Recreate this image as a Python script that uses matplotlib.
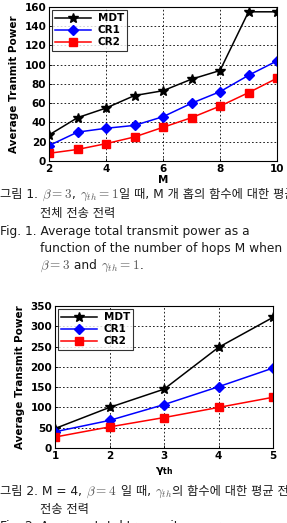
import matplotlib
matplotlib.use('Agg')
import matplotlib.pyplot as plt

plt.rcParams['mathtext.fontset'] = 'cm'

# figure 1 data: power vs number of hops M
hops = [2, 3, 4, 5, 6, 7, 8, 9, 10]
mdt_m = [27, 45, 55, 68, 73, 85, 94, 155, 155]
cr1_m = [16, 30, 34, 37, 46, 60, 72, 89, 104]
cr2_m = [8, 12, 18, 25, 35, 45, 57, 71, 86]

# figure 2 data: power vs gamma_th
gammas = [1, 2, 3, 4, 5]
mdt_g = [48, 100, 145, 248, 322]
cr1_g = [40, 68, 107, 151, 197]
cr2_g = [27, 52, 75, 100, 125]

W, H = 287, 523
fig = plt.figure(figsize=(W / 100, H / 100), dpi=100)
fig.patch.set_facecolor('white')
renderer = fig.canvas.get_renderer()

cap_fam = ['DejaVu Sans', 'Noto Sans CJK KR']


def px_axes(left, top, right, bottom):
    return fig.add_axes([left / W, 1 - bottom / H, (right - left) / W, (bottom - top) / H])


def draw(ax, x, mdt, cr1, cr2):
    ax.plot(x, mdt, '-*', color='black', lw=1.1, ms=7, label='MDT')
    ax.plot(x, cr1, '-D', color='blue', lw=1.1, ms=5, label='CR1')
    ax.plot(x, cr2, '-s', color='red', lw=1.1, ms=5.5, label='CR2')
    ax.grid(True, color='black', ls=(0, (2, 2.5)), lw=0.6)
    for s in ax.spines.values():
        s.set_linewidth(0.8)
    ax.tick_params(direction='in', length=2.5, width=0.6, pad=2, labelsize=7.5)
    leg = ax.legend(loc='upper left', fontsize=7.5, handlelength=3.4, frameon=True,
                    fancybox=False, edgecolor='black', borderpad=0.3,
                    labelspacing=0.2, borderaxespad=0.3, handletextpad=0.7)
    leg.get_frame().set_linewidth(0.8)
    for t in leg.get_texts():
        t.set_fontweight('bold')


# chart 1
ax1 = px_axes(49, 7, 277, 161)
draw(ax1, hops, mdt_m, cr1_m, cr2_m)
ax1.set_xlim(2, 10)
ax1.set_ylim(0, 160)
ax1.set_xticks([2, 4, 6, 8, 10])
ax1.set_yticks(range(0, 161, 20))
for lab in ax1.get_xticklabels() + ax1.get_yticklabels():
    lab.set_fontweight('bold')
ax1.set_ylabel('Average Tranmit Power', fontsize=7.5, fontweight='bold', labelpad=4)
ax1.set_xlabel('M', fontsize=7.5, fontweight='bold', labelpad=1)

# chart 2
ax2 = px_axes(55, 306, 273, 448)
draw(ax2, gammas, mdt_g, cr1_g, cr2_g)
ax2.set_xlim(1, 5)
ax2.set_ylim(0, 350)
ax2.set_xticks(gammas)
ax2.set_yticks(range(0, 351, 50))
for lab in ax2.get_xticklabels() + ax2.get_yticklabels():
    lab.set_fontweight('bold')
ax2.set_ylabel('Average Transmit Power', fontsize=7.5, fontweight='bold', labelpad=4)
ax2.set_xlabel(r'$\mathbf{\gamma}_{\mathbf{th}}$', fontsize=8, labelpad=3,
               math_fontfamily='dejavusans')


def cap(x, y, parts):
    # parts: plain strings, or math strings starting with '$'
    if isinstance(parts, str):
        parts = [parts]
    for s in parts:
        if s.startswith('$'):
            t = fig.text(x / W, 1 - (y + 4) / H, s, fontsize=9.5, va='baseline',
                         ha='left', color='#555555')
        else:
            t = fig.text(x / W, 1 - (y + 4) / H, s, fontsize=8.8, family=cap_fam,
                         va='baseline', ha='left', color='#1a1a1a')
        x += t.get_window_extent(renderer).width


# caption 1
cap(0, 194, ['그림 1. ', r'$\beta=3$', ', ', r'$\gamma_{th}=1$',
             '일 때, M 개 홉의 함수에 대한 평균'])
cap(40, 213, '전체 전송 전력')
cap(0, 231, 'Fig. 1. Average total transmit power as a')
cap(40, 248, 'function of the number of hops M when')
cap(40, 265, [r'$\beta=3$', ' and ', r'$\gamma_{th}=1$', '.'])

# caption 2
cap(0, 491, ['그림 2. M = 4, ', r'$\beta=4$', ' 일 때, ', r'$\gamma_{th}$',
             '의 함수에 대한 평균 전체'])
cap(40, 509, '전송 전력')
cap(0, 526, 'Fig. 2. Average total transmit power as a')

fig.savefig('out.png', dpi=100)
